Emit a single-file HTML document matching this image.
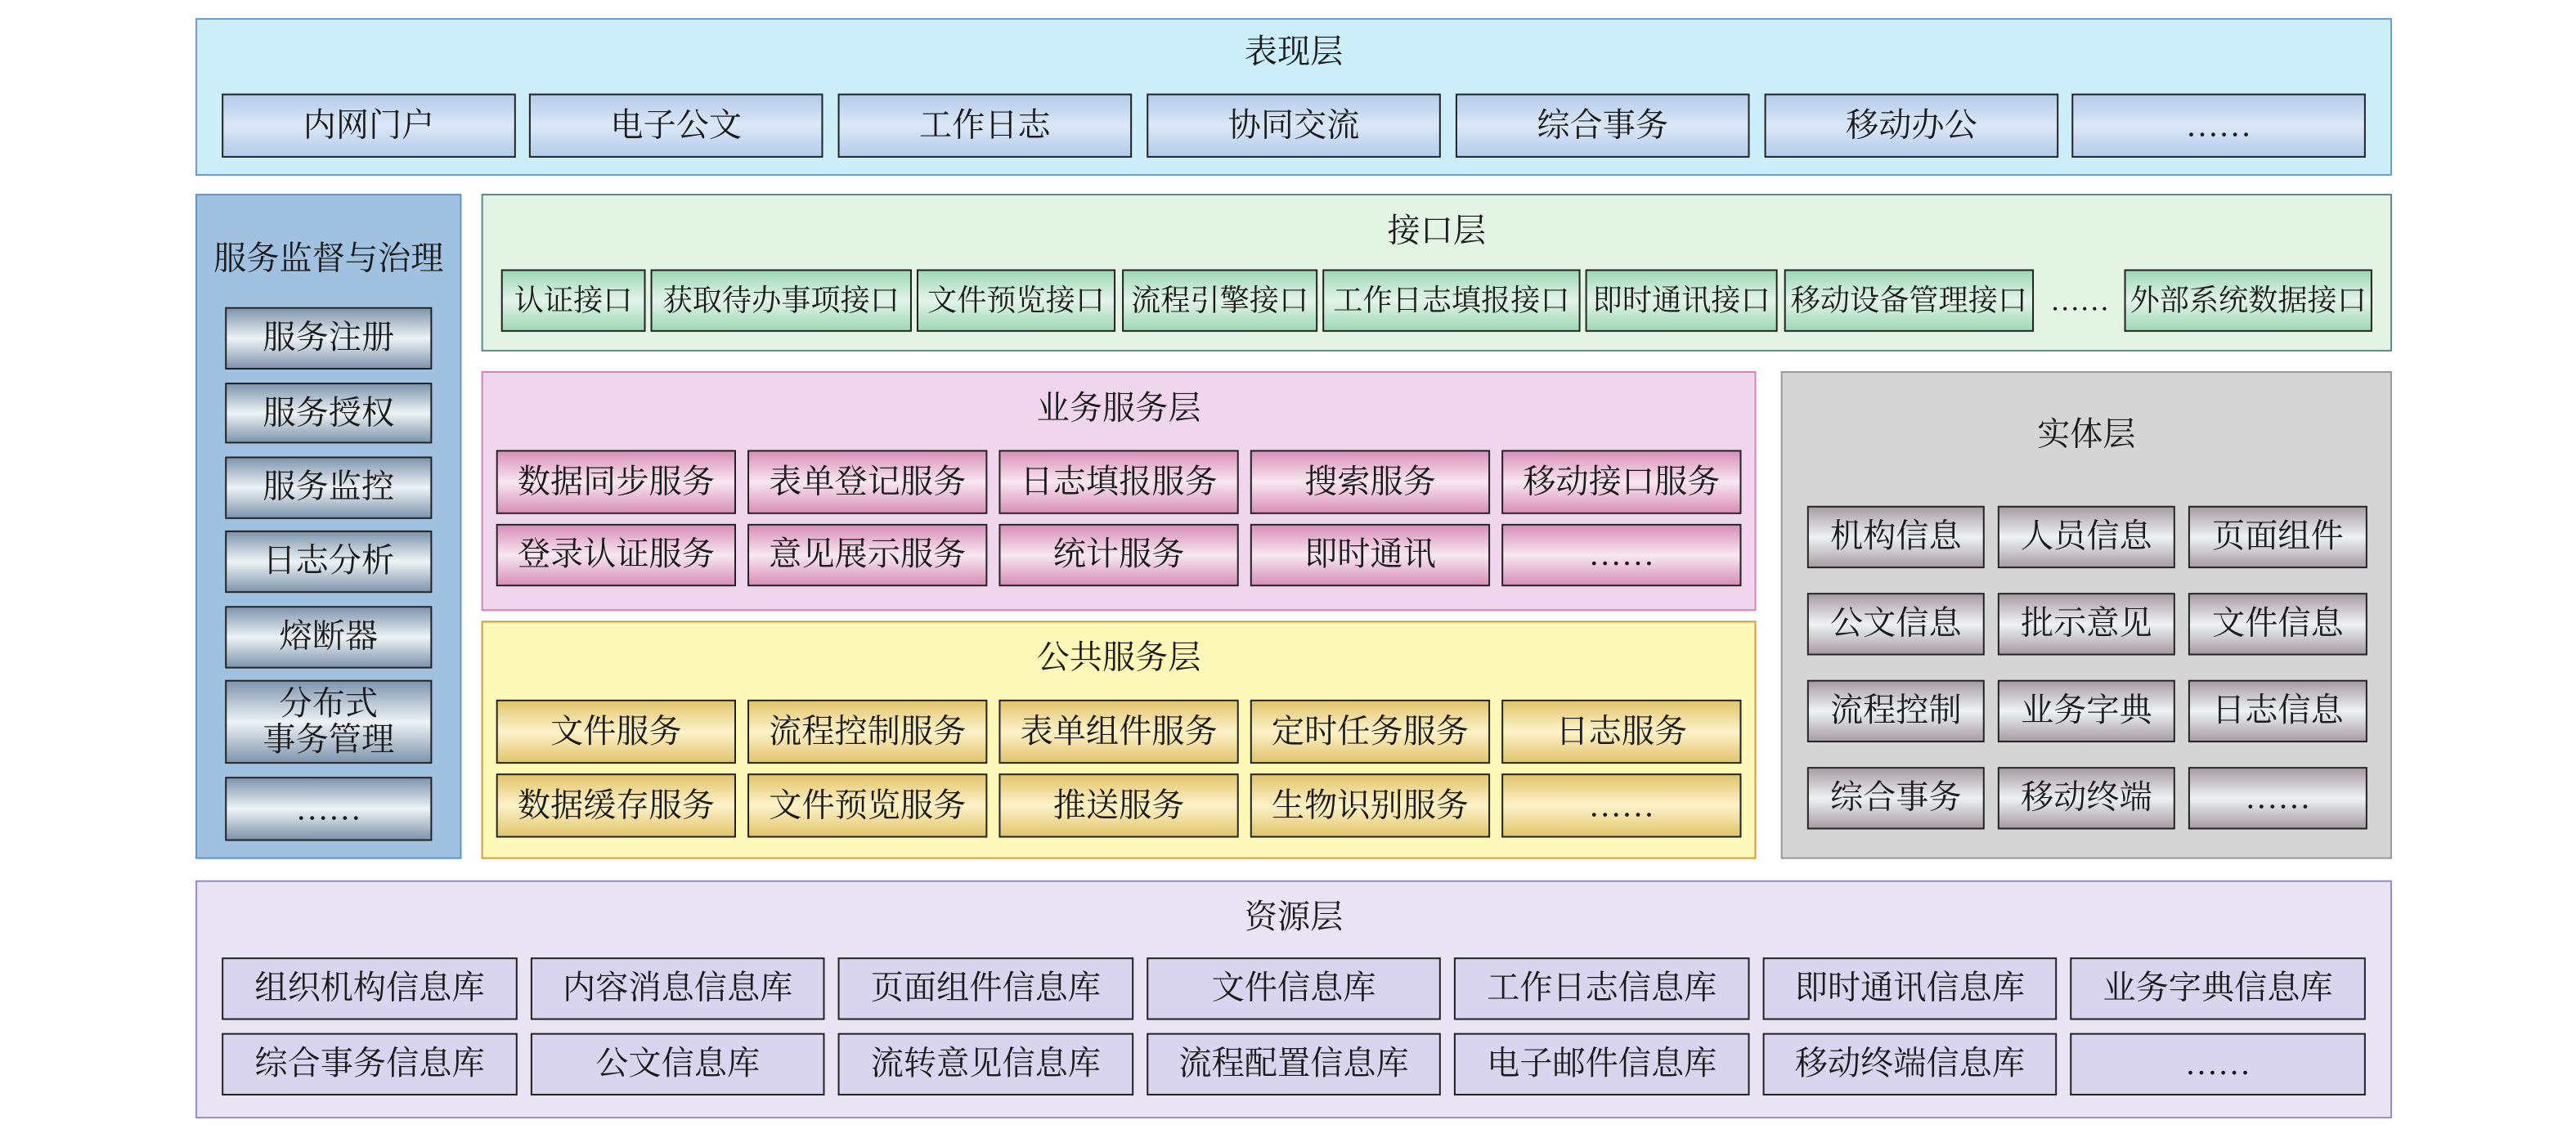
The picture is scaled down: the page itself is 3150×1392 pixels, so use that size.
<!DOCTYPE html>
<html><head><meta charset="utf-8"><style>
html,body{margin:0;padding:0;background:#fff;}
body{width:3150px;height:1391px;overflow:hidden;position:relative;}
#w{position:absolute;left:0;top:0;width:1568px;height:693px;transform:scale(2.00893);transform-origin:0 0;font-family:"Liberation Serif","Noto Serif CJK SC",serif;color:#1a1a1a;}
.L{position:absolute;box-sizing:border-box;border:1.5px solid;}
.T{position:absolute;font-size:20px;text-align:center;line-height:24px;white-space:nowrap;}
.i{position:absolute;box-sizing:border-box;border:1.6px solid #222;display:flex;align-items:center;justify-content:center;font-size:20px;line-height:22px;text-align:center;white-space:nowrap;}
.a{background:linear-gradient(#b4cbea,#dbe8f7 50%,#b4cbea);}
.g{background:linear-gradient(#7f95ad,#eef3f5 50%,#7f95ad);}
.n{background:linear-gradient(#9ed8b6,#e3f4ea 50%,#9ed8b6);}
.p{background:linear-gradient(#d98fb8,#f7e8f0 50%,#d98fb8);}
.y{background:linear-gradient(#e2c46c,#fdf3c9 50%,#e2c46c);}
.e{background:linear-gradient(#a89da4,#eef2f4 50%,#a89da4);}
.r{background:#d9d5ee;}
</style></head><body><div id="w">

<div class="L" style="left:119px;top:11px;width:1337px;height:96px;background:#cceef9;border-color:#6f9bd0"></div>
<div class="T" style="left:119px;top:20px;width:1337px">表现层</div>
<div class="i a" style="left:135px;top:57px;width:179px;height:39px">内网门户</div>
<div class="i a" style="left:322px;top:57px;width:179px;height:39px">电子公文</div>
<div class="i a" style="left:510px;top:57px;width:179px;height:39px">工作日志</div>
<div class="i a" style="left:698px;top:57px;width:179px;height:39px">协同交流</div>
<div class="i a" style="left:886px;top:57px;width:179px;height:39px">综合事务</div>
<div class="i a" style="left:1074px;top:57px;width:179px;height:39px">移动办公</div>
<div class="i a" style="left:1261px;top:57px;width:179px;height:39px">……</div>

<div class="L" style="left:119px;top:118px;width:162px;height:405px;background:#a0c2e0;border-color:#5f96cf"></div>
<div class="T" style="left:119px;top:146px;width:162px">服务监督与治理</div>
<div class="i g" style="left:137px;top:187px;width:126px;height:38px">服务注册</div>
<div class="i g" style="left:137px;top:233px;width:126px;height:37px">服务授权</div>
<div class="i g" style="left:137px;top:278px;width:126px;height:38px">服务监控</div>
<div class="i g" style="left:137px;top:323px;width:126px;height:38px">日志分析</div>
<div class="i g" style="left:137px;top:369px;width:126px;height:38px">熔断器</div>
<div class="i g" style="left:137px;top:414px;width:126px;height:51px">分布式<br>事务管理</div>
<div class="i g" style="left:137px;top:473px;width:126px;height:39px">……</div>

<div class="L" style="left:293px;top:118px;width:1163px;height:96px;background:#e3f4e4;border-color:#5f8a8a"></div>
<div class="T" style="left:293px;top:129px;width:1163px">接口层</div>
<div class="i n" style="left:305px;top:164px;width:88px;height:38px;font-size:18px">认证接口</div>
<div class="i n" style="left:396px;top:164px;width:159px;height:38px;font-size:18px">获取待办事项接口</div>
<div class="i n" style="left:558px;top:164px;width:121px;height:38px;font-size:18px">文件预览接口</div>
<div class="i n" style="left:683px;top:164px;width:119px;height:38px;font-size:18px">流程引擎接口</div>
<div class="i n" style="left:805px;top:164px;width:157px;height:38px;font-size:18px">工作日志填报接口</div>
<div class="i n" style="left:965px;top:164px;width:117px;height:38px;font-size:18px">即时通讯接口</div>
<div class="i n" style="left:1086px;top:164px;width:152px;height:38px;font-size:18px">移动设备管理接口</div>
<div class="T" style="left:1240px;top:171px;width:52px;font-size:18px">……</div>
<div class="i n" style="left:1293px;top:164px;width:151px;height:38px;font-size:18px">外部系统数据接口</div>

<div class="L" style="left:293px;top:226px;width:776px;height:146px;background:#efd6ec;border-color:#d883b6"></div>
<div class="T" style="left:293px;top:237px;width:776px">业务服务层</div>
<div class="i p" style="left:302px;top:274px;width:146px;height:39px">数据同步服务</div>
<div class="i p" style="left:455px;top:274px;width:146px;height:39px">表单登记服务</div>
<div class="i p" style="left:608px;top:274px;width:146px;height:39px">日志填报服务</div>
<div class="i p" style="left:761px;top:274px;width:146px;height:39px">搜索服务</div>
<div class="i p" style="left:914px;top:274px;width:146px;height:39px">移动接口服务</div>
<div class="i p" style="left:302px;top:319px;width:146px;height:38px">登录认证服务</div>
<div class="i p" style="left:455px;top:319px;width:146px;height:38px">意见展示服务</div>
<div class="i p" style="left:608px;top:319px;width:146px;height:38px">统计服务</div>
<div class="i p" style="left:761px;top:319px;width:146px;height:38px">即时通讯</div>
<div class="i p" style="left:914px;top:319px;width:146px;height:38px">……</div>

<div class="L" style="left:293px;top:378px;width:776px;height:145px;background:#fef9b8;border-color:#d99b3a"></div>
<div class="T" style="left:293px;top:389px;width:776px">公共服务层</div>
<div class="i y" style="left:302px;top:426px;width:146px;height:39px">文件服务</div>
<div class="i y" style="left:455px;top:426px;width:146px;height:39px">流程控制服务</div>
<div class="i y" style="left:608px;top:426px;width:146px;height:39px">表单组件服务</div>
<div class="i y" style="left:761px;top:426px;width:146px;height:39px">定时任务服务</div>
<div class="i y" style="left:914px;top:426px;width:146px;height:39px">日志服务</div>
<div class="i y" style="left:302px;top:471px;width:146px;height:39px">数据缓存服务</div>
<div class="i y" style="left:455px;top:471px;width:146px;height:39px">文件预览服务</div>
<div class="i y" style="left:608px;top:471px;width:146px;height:39px">推送服务</div>
<div class="i y" style="left:761px;top:471px;width:146px;height:39px">生物识别服务</div>
<div class="i y" style="left:914px;top:471px;width:146px;height:39px">……</div>

<div class="L" style="left:1084px;top:226px;width:372px;height:297px;background:#d5d5d5;border-color:#999"></div>
<div class="T" style="left:1084px;top:253px;width:372px">实体层</div>
<div class="i e" style="left:1100px;top:308px;width:108px;height:38px">机构信息</div>
<div class="i e" style="left:1216px;top:308px;width:108px;height:38px">人员信息</div>
<div class="i e" style="left:1332px;top:308px;width:109px;height:38px">页面组件</div>
<div class="i e" style="left:1100px;top:361px;width:108px;height:38px">公文信息</div>
<div class="i e" style="left:1216px;top:361px;width:108px;height:38px">批示意见</div>
<div class="i e" style="left:1332px;top:361px;width:109px;height:38px">文件信息</div>
<div class="i e" style="left:1100px;top:414px;width:108px;height:38px">流程控制</div>
<div class="i e" style="left:1216px;top:414px;width:108px;height:38px">业务字典</div>
<div class="i e" style="left:1332px;top:414px;width:109px;height:38px">日志信息</div>
<div class="i e" style="left:1100px;top:467px;width:108px;height:38px">综合事务</div>
<div class="i e" style="left:1216px;top:467px;width:108px;height:38px">移动终端</div>
<div class="i e" style="left:1332px;top:467px;width:109px;height:38px">……</div>

<div class="L" style="left:119px;top:536px;width:1337px;height:145px;background:#e8e4f4;border-color:#9a8cc8"></div>
<div class="T" style="left:119px;top:547px;width:1337px">资源层</div>
<div class="i r" style="left:135px;top:583px;width:180px;height:38px">组织机构信息库</div>
<div class="i r" style="left:323px;top:583px;width:179px;height:38px">内容消息信息库</div>
<div class="i r" style="left:510px;top:583px;width:180px;height:38px">页面组件信息库</div>
<div class="i r" style="left:698px;top:583px;width:179px;height:38px">文件信息库</div>
<div class="i r" style="left:885px;top:583px;width:180px;height:38px">工作日志信息库</div>
<div class="i r" style="left:1073px;top:583px;width:179px;height:38px">即时通讯信息库</div>
<div class="i r" style="left:1260px;top:583px;width:180px;height:38px">业务字典信息库</div>
<div class="i r" style="left:135px;top:629px;width:180px;height:38px">综合事务信息库</div>
<div class="i r" style="left:323px;top:629px;width:179px;height:38px">公文信息库</div>
<div class="i r" style="left:510px;top:629px;width:180px;height:38px">流转意见信息库</div>
<div class="i r" style="left:698px;top:629px;width:179px;height:38px">流程配置信息库</div>
<div class="i r" style="left:885px;top:629px;width:180px;height:38px">电子邮件信息库</div>
<div class="i r" style="left:1073px;top:629px;width:179px;height:38px">移动终端信息库</div>
<div class="i r" style="left:1260px;top:629px;width:180px;height:38px">……</div>

</div></body></html>
